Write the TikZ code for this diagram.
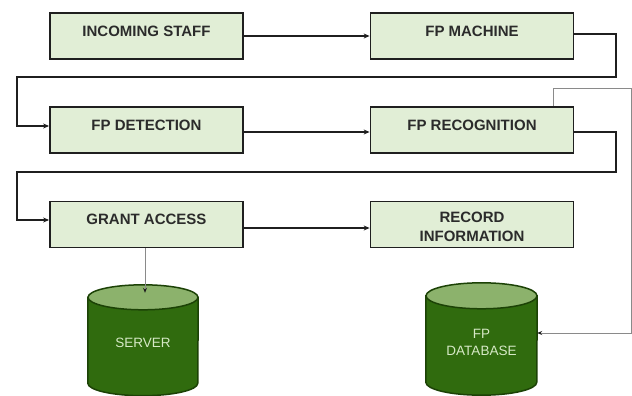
\documentclass[tikz,border=0pt]{standalone}
\usepackage{fontspec}
\setmainfont{Liberation Sans}
\usetikzlibrary{arrows.meta,backgrounds}

\definecolor{boxfill}{HTML}{E1EED6}
\definecolor{boxline}{HTML}{1F1F1F}
\definecolor{boxtext}{HTML}{2B2B2B}
\definecolor{dbbody}{HTML}{306B0E}
\definecolor{dbtop}{HTML}{8CB26C}
\definecolor{dbline}{HTML}{1C4206}
\definecolor{dbtext}{HTML}{D6E9C6}
\definecolor{thinline}{HTML}{8A8A8A}

\begin{document}
\begin{tikzpicture}[x=1pt,y=-1pt,
  stepbox/.style={draw=boxline, line width=1.8pt, fill=boxfill,
    minimum height=46pt, inner sep=0pt},
  steplabel/.style={text=boxtext, font=\fontsize{15}{19}\selectfont\bfseries,
    align=center, inner sep=0pt},
  dbnode/.style={inner sep=0pt, minimum width=110pt},
  dblabel/.style={text=dbtext, font=\fontsize{13.5}{17}\selectfont,
    align=center, inner sep=0pt},
  flow/.style={draw=boxline, line width=1.8pt,
    -{Stealth[length=6pt,width=5pt]}},
  dbflow/.style={draw=thinline, line width=1pt,
    -{Stealth[length=5pt,width=4pt,color=boxline]}},
  dbshape/.style={fill=dbbody, draw=dbline, line width=1.5pt},
  dbcap/.style={fill=dbtop, draw=dbline, line width=1.5pt}
]
\useasboundingbox (0,0) rectangle (632,396);

% process steps
\node[stepbox, minimum width=193pt] (inc) at (146.5,36) {};
\node[steplabel] (inc-t) at ([yshift=4.5pt]inc.center) {INCOMING STAFF};
\node[stepbox, minimum width=203pt] (fpm) at (472,36) {};
\node[steplabel] (fpm-t) at ([yshift=4.5pt]fpm.center) {FP MACHINE};

\node[stepbox, minimum width=193pt] (det) at (146.5,130) {};
\node[steplabel] (det-t) at ([yshift=5pt]det.center) {FP DETECTION};
\node[stepbox, minimum width=203pt] (rec) at (472,130) {};
\node[steplabel] (rec-t) at ([yshift=5pt]rec.center) {FP RECOGNITION};

\node[stepbox, minimum width=193pt] (grant) at (146.5,224.5) {};
\node[steplabel] (grant-t) at ([yshift=5pt]grant.center) {GRANT ACCESS};
\node[stepbox, minimum width=203pt] (info) at (472,224.5) {};
\node[steplabel] (info-t) at ([yshift=-2pt]info.center) {RECORD\\INFORMATION};

% databases: the node spans the cylinder body, its top edge on the cap's centre line
\node[dbnode, minimum height=85.5pt] (server) at (143,340.25) {};
\node[dblabel] (server-t) at (143,342.5) {SERVER};
\node[dbnode, minimum height=86pt, minimum width=111pt] (fpdb) at (481.5,339) {};
\node[dblabel] (fpdb-t) at (481.5,342) {FP\\DATABASE};

\begin{scope}[on background layer]
  \fill[white] (0,0) rectangle (632,396);
  \filldraw[dbshape] (server.north west) -- (server.south west)
    arc[start angle=180, end angle=360, x radius=55pt, y radius=12.5pt]
    -- (server.north east) -- cycle;
  \filldraw[dbcap] (server.north) ellipse [x radius=55pt, y radius=12.5pt];
  \filldraw[dbshape] (fpdb.north west) -- (fpdb.south west)
    arc[start angle=180, end angle=360, x radius=55.5pt, y radius=13pt]
    -- (fpdb.north east) -- cycle;
  \filldraw[dbcap] (fpdb.north) ellipse [x radius=55.5pt, y radius=13pt];
\end{scope}

% bend points of the return lines
\coordinate (bendA) at (616,77);
\coordinate (bendB) at (17,77);
\coordinate (bendC) at (616,172);
\coordinate (bendD) at (17,172);
\coordinate (dbA) at (553,89);
\coordinate (dbB) at (631,89);
\coordinate (srvIn) at ([xshift=2pt,yshift=4.5pt]server.north);

% main flow
\draw[flow] (inc) -- (fpm);
\draw[flow] ([yshift=2pt]fpm.east) -| (bendA) -- (bendB) |- ([yshift=4pt]det.west);
\draw[flow] ([yshift=-2pt]det.east) -- ([yshift=-2pt]rec.west);
\draw[flow] ([yshift=-2pt]rec.east) -| (bendC) -- (bendD) |- ([yshift=4.5pt]grant.west);
\draw[flow] ([yshift=-3.5pt]grant.east) -- ([yshift=-3.5pt]info.west);

% storage links
\draw[dbflow] (grant.south -| srvIn) -- (srvIn);
\draw[dbflow] (rec.north -| dbA) -- (dbA) -- (dbB) |- ([yshift=6pt]fpdb.east);
\end{tikzpicture}
\end{document}
